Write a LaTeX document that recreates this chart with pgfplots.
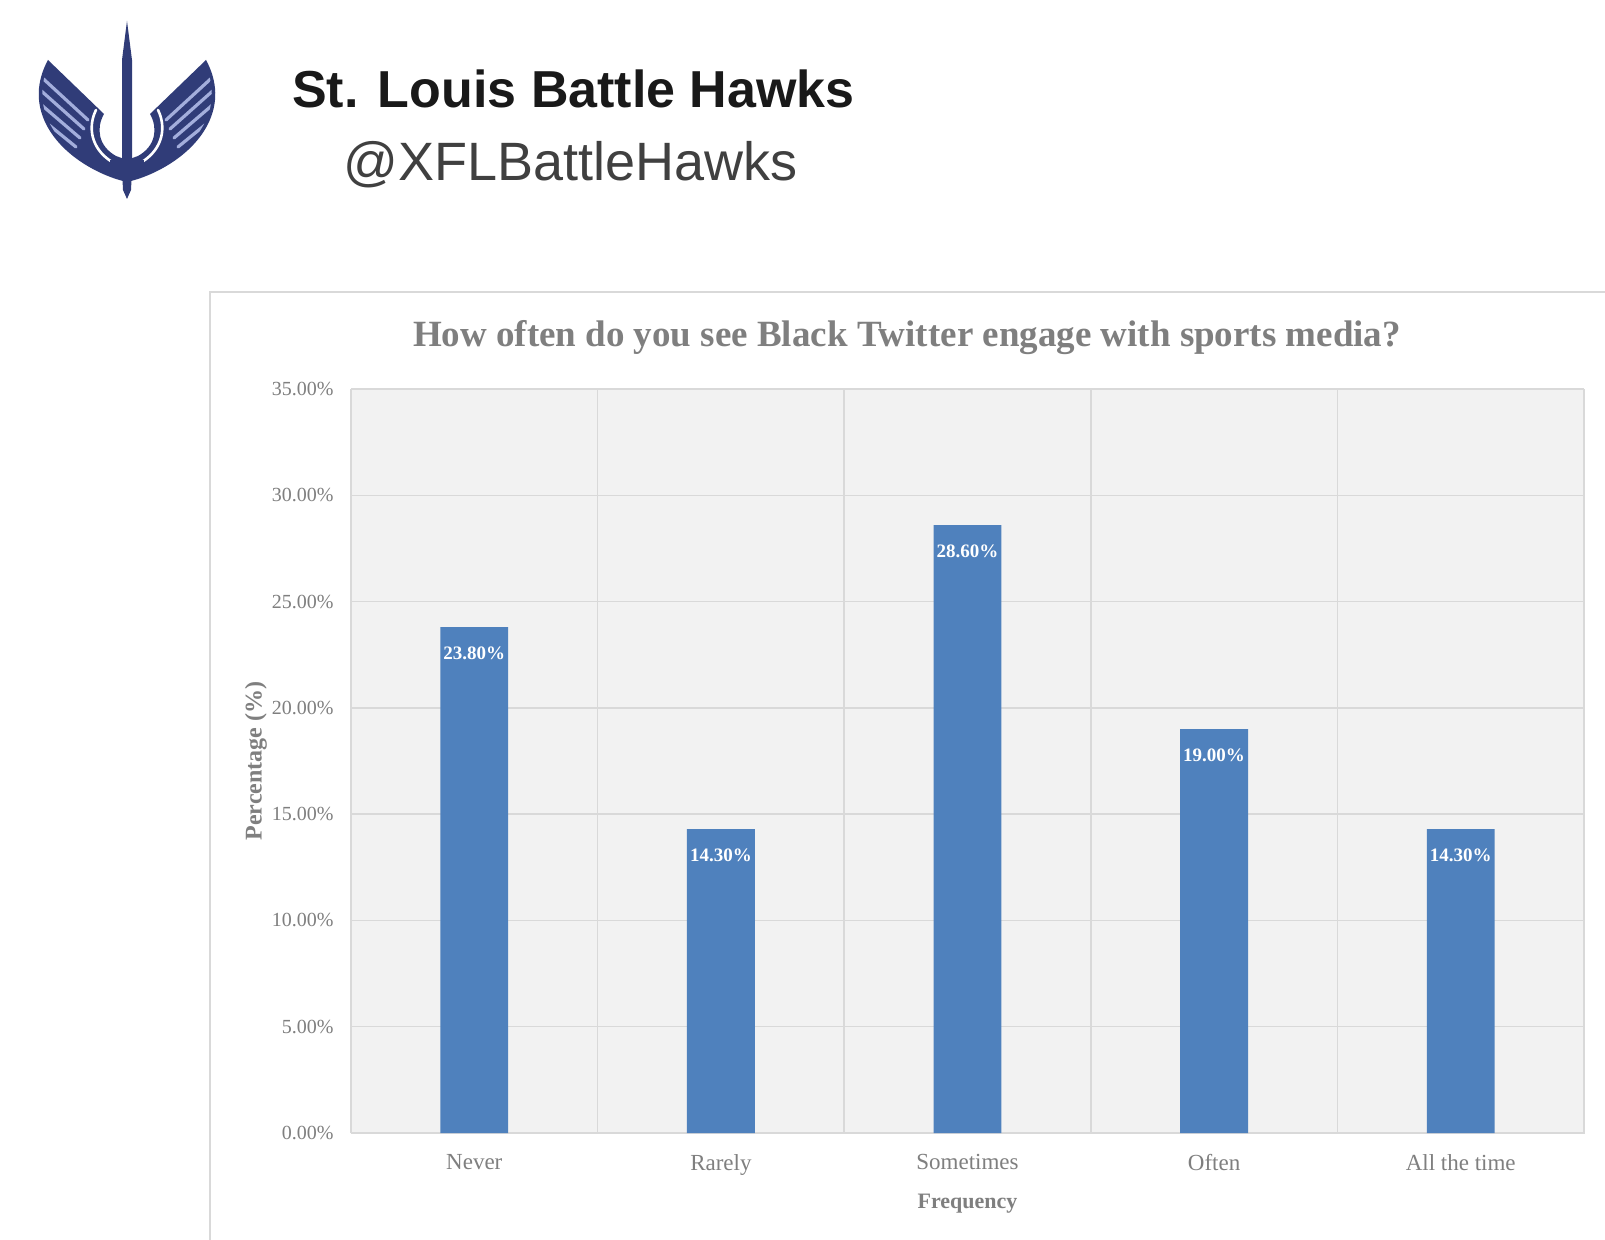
\documentclass[border=0pt]{standalone}
\usepackage{pgfplots}
\pgfplotsset{compat=1.18}
\usepackage{fontspec}
\setmainfont{Liberation Serif}
\newfontfamily\hdr{Liberation Sans}
\definecolor{barblue}{HTML}{4F81BD}
\definecolor{plotbg}{HTML}{F2F2F2}
\definecolor{gridc}{HTML}{D9D9D9}
\definecolor{txtgray}{HTML}{7F7F7F}
\definecolor{navy}{HTML}{303C78}
\definecolor{lightnavy}{HTML}{A3AEDC}
\begin{document}
\begin{tikzpicture}[x=1pt,y=1pt]
\useasboundingbox (0,0) rectangle (1605,1239);
\clip (0,0) rectangle (1605,1239);
\fill[white] (0,0) rectangle (1605,1239);
% logo (image coordinates)
\begin{scope}[shift={(0,1239)}, yscale=-1, line cap=round, line join=round]
 \foreach \s in {0,1}{
  \begin{scope}[shift={(254*\s,0)}, xscale={1-2*\s}]
   \fill[navy] (48,60) -- (104,114) .. controls (96,128) and (98,146) .. (116,156) -- (127,160) -- (127,182)
      .. controls (100,176) and (62,156) .. (46,124) .. controls (36,104) and (36,82) .. (48,60) -- cycle;
   \begin{scope}
    \clip (49,64) -- (100,114) .. controls (92,128) and (94,146) .. (112,158) -- (124,164) -- (124,178)
      .. controls (100,172) and (64,153) .. (49,122) .. controls (40,104) and (40,84) .. (49,64) -- cycle;
    \foreach \k in {0,1,2,3,4}{
      \draw[lightnavy, line width=3.2pt] (38,74+14*\k) -- (88-4*\k,120+9*\k);
    }
   \end{scope}
   \draw[white, line width=2.6pt] (96,110) .. controls (88,126) and (90,148) .. (112,162) -- (122,166);
  \end{scope}}
 \fill[navy] (127,21) -- (132,60) -- (132,160) -- (122,160) -- (122,60) -- cycle;
 \fill[navy] (110,160) rectangle (144,170);
 \fill[navy] (122,170) -- (132,170) -- (131,190) -- (127,199) -- (123,190) -- cycle;
\end{scope}
% header
\node[anchor=base west, font=\hdr\bfseries\fontsize{52}{60}\selectfont, text=black!90, inner sep=0] at (292,1239-108) {St. Louis Battle Hawks};
\node[anchor=base west, font=\hdr\fontsize{54}{62}\selectfont, text=black!75, inner sep=0] at (343,1239-181) {@XFLBattleHawks};
% chart frame
\draw[gridc, line width=1.5pt] (210,-10) rectangle (1640,1239-292);
\node[font=\bfseries\fontsize{37}{44}\selectfont, text=txtgray] at (907,1239-338) {How often do you see Black Twitter engage with sports media?};
\begin{axis}[
  at={(351pt,106pt)}, anchor=south west,
  scale only axis, width=1233pt, height=744pt,
  xmin=-0.5, xmax=4.5, ymin=0, ymax=35,
  axis background/.style={fill=plotbg},
  axis line style={draw=gridc},
  xtick={0,1,2,3,4},
  xticklabels={Never,Rarely,Sometimes,Often,All the time},
  minor xtick={-0.5,0.5,1.5,2.5,3.5,4.5},
  xminorgrids, ymajorgrids,
  grid style={draw=gridc, line width=1.5pt},
  minor grid style={draw=gridc, line width=1.5pt},
  ytick={0,5,...,35},
  major tick length=0pt, minor tick length=0pt,
  /pgf/number format/assume math mode=true,
  yticklabel={\pgfmathprintnumber[fixed,fixed zerofill,precision=2]{\tick}\%},
  tick label style={font=\fontsize{20}{22}\selectfont, text=txtgray},
  yticklabel style={xshift=-14pt},
  xticklabel style={yshift=-18pt, font=\fontsize{23}{25}\selectfont},
  xlabel={Frequency}, ylabel={Percentage (\%)},
  label style={font=\bfseries\fontsize{22}{24}\selectfont, text=txtgray},
  xlabel style={yshift=-12pt},
  ylabel style={yshift=-2pt, font=\bfseries\fontsize{24}{26}\selectfont},
  ybar, bar width=0.275,
  nodes near coords={\pgfmathprintnumber[fixed,fixed zerofill,precision=2]{\pgfplotspointmeta}\%},
  nodes near coords style={anchor=north, yshift=-16pt, font=\bfseries\fontsize{19}{21}\selectfont, text=white},
]
\addplot[fill=barblue, draw=none] coordinates {(0,23.8) (1,14.3) (2,28.6) (3,19.0) (4,14.3)};
\end{axis}
\end{tikzpicture}
\end{document}
